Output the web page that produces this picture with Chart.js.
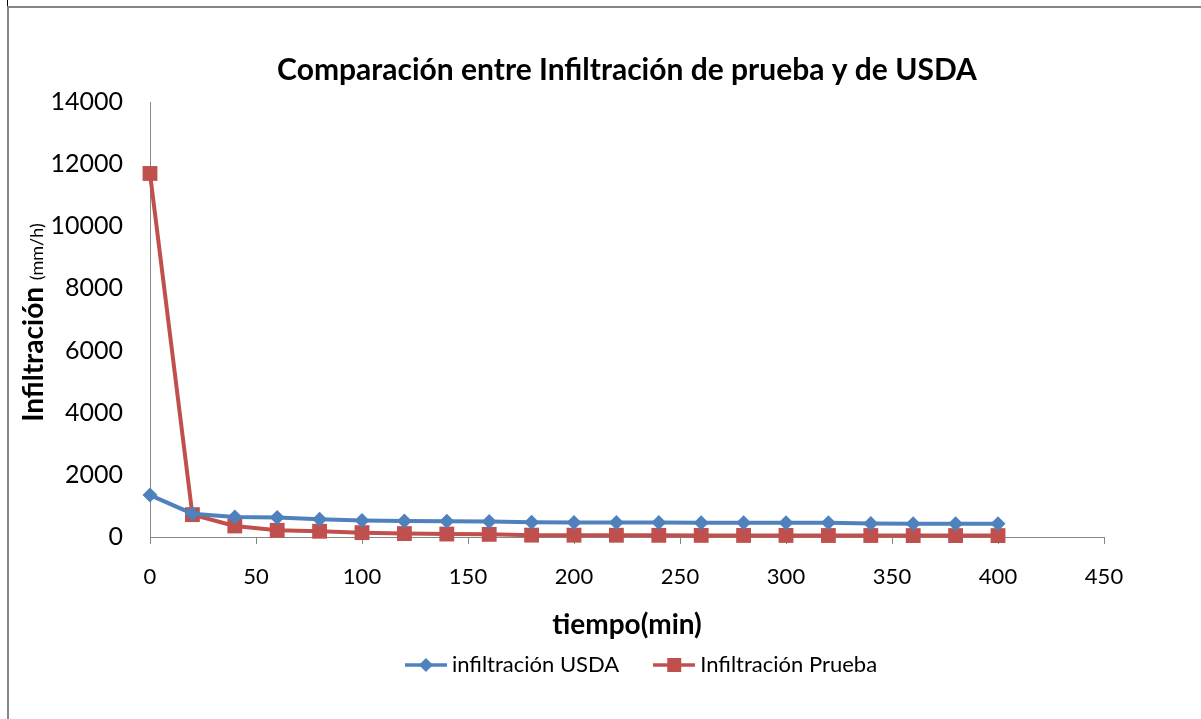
<!DOCTYPE html>
<html>
<head>
<meta charset="utf-8">
<script src="https://cdn.jsdelivr.net/npm/chart.js@4.4.1/dist/chart.umd.min.js"></script>
<style>
  html, body { margin:0; padding:0; background:#fff; overflow:hidden; }
  #wrap { position:relative; width:1201px; height:719px; }
  #frame { position:absolute; left:7px; top:6px; width:1300px; height:800px; border-top:2px solid #868686; border-left:2px solid #868686; pointer-events:none; }
  #nick { position:absolute; left:7px; top:0; width:1px; height:6px; background:#000; }
  canvas { position:absolute; left:0; top:0; }
</style>
</head>
<body>
<div id="wrap">
  <canvas id="chart" width="1201" height="719"></canvas>
  <div id="frame"></div>
  <div id="nick"></div>
</div>
<script>
(function(){
  // data
  const tiempo = [0, 20, 40, 60, 80, 100, 120, 140, 160, 180, 200, 220, 240, 260, 280, 300, 320, 340, 360, 380, 400];
  const usda = [1350, 750, 645, 625, 570, 535, 515, 505, 500, 475, 470, 465, 463, 462, 460, 460, 458, 432, 430, 430, 430];
  const prueba = [11700, 720, 355, 215, 185, 140, 110, 95, 85, 60, 58, 56, 54, 52, 50, 50, 48, 48, 46, 46, 45];
  const seriesNames = ['infiltración USDA', 'Infiltración Prueba'];
  const chartTitle = 'Comparación entre Infiltración de prueba y de USDA';
  const xTitle = 'tiempo(min)';
  const yTitleMain = 'Infiltración';
  const yTitleUnit = '(mm/h)';

  const BLUE = '#4F81BD';
  const RED = '#C0504D';
  const FONT = 'Lato, "Open Sans", sans-serif';

  const pts = vals => tiempo.map((t, i) => ({ x: t, y: vals[i] }));

  // legend swatches: line with marker, like the spreadsheet legend
  function swatch(color, kind){
    const c = document.createElement('canvas');
    c.width = 42; c.height = 18;
    const g = c.getContext('2d');
    g.strokeStyle = color; g.lineWidth = 3.5;
    g.beginPath(); g.moveTo(0, 9); g.lineTo(42, 9); g.stroke();
    g.fillStyle = color;
    if(kind === 'diamond'){
      g.beginPath(); g.moveTo(21, 2); g.lineTo(28, 9); g.lineTo(21, 16); g.lineTo(14, 9); g.closePath(); g.fill();
    } else {
      g.fillRect(14, 2, 14, 14);
    }
    return c;
  }
  const swatches = [swatch(BLUE, 'diamond'), swatch(RED, 'square')];

  const yTitlePlugin = {
    id: 'yTitle',
    beforeDraw(chart){
      // legend sits a bit right of the plot centre in the original
      if(!chart.legend._shifted){ chart.legend.left += 17; chart.legend.right += 17; chart.legend._shifted = true; }
    },
    afterDraw(chart){
      const ctx = chart.ctx;
      const a = chart.chartArea;
      ctx.save();
      ctx.translate(33, (a.top + a.bottom) / 2 + 3);
      ctx.rotate(-Math.PI / 2);
      ctx.fillStyle = '#000';
      ctx.textBaseline = 'alphabetic';
      const f1 = 'bold 28px ' + FONT, f2 = '18px ' + FONT;
      ctx.font = f1; const w1 = ctx.measureText(yTitleMain + ' ').width;
      ctx.font = f2; const w2 = ctx.measureText(yTitleUnit).width;
      const x0 = -(w1 + w2) / 2;
      ctx.font = f1; ctx.fillText(yTitleMain + ' ', x0, 10);
      ctx.font = f2; ctx.fillText(yTitleUnit, x0 + w1, 10);
      ctx.restore();
    }
  };

  new Chart(document.getElementById('chart'), {
    type: 'line',
    data: {
      datasets: [
        { label: seriesNames[0], data: pts(usda), borderColor: BLUE, backgroundColor: BLUE, borderWidth: 4,
          pointStyle: 'rectRot', pointRadius: 7.5, pointBorderWidth: 0, tension: 0, clip: false },
        { label: seriesNames[1], data: pts(prueba), borderColor: RED, backgroundColor: RED, borderWidth: 4,
          pointStyle: 'rect', pointRadius: 10.5, pointBorderWidth: 0, tension: 0, clip: false }
      ]
    },
    options: {
      responsive: false,
      animation: false,
      layout: { padding: { left: 0, right: 97, top: 0, bottom: 33 } },
      plugins: {
        title: { display: true, fullSize: false, text: chartTitle, color: '#000', font: { family: FONT, size: 30, weight: 'bold' }, padding: { top: 52, bottom: 14 } },
        legend: {
          position: 'bottom',
          fullSize: false,
          labels: {
            usePointStyle: true, pointStyleWidth: 30, padding: 40, color: '#000',
            font: { family: FONT, size: 22 },
            generateLabels: chart => chart.data.datasets.map((d, i) => ({
              text: d.label, pointStyle: swatches[i], fontColor: '#000', hidden: false, datasetIndex: i, lineWidth: 0
            }))
          }
        },
        tooltip: { enabled: false }
      },
      scales: {
        x: {
          type: 'linear', min: 0, max: 450,
          afterFit: s => { s.height = 77; },
          border: { display: true, color: '#868686', width: 1 },
          grid: { drawOnChartArea: false, drawTicks: true, tickLength: 7, color: '#868686' },
          ticks: { stepSize: 50, padding: 20, color: '#000', font: { family: FONT, size: 22 }, callback: v => String(v) },
          title: { display: true, text: xTitle, color: '#000', font: { family: FONT, size: 28, weight: 'bold' }, padding: { top: 0, bottom: -28 } }
        },
        y: {
          min: 0, max: 14000,
          afterFit: s => { s.width = 150; },
          border: { display: true, color: '#868686', width: 1 },
          grid: { display: true, drawOnChartArea: false, drawTicks: false },
          ticks: { stepSize: 2000, padding: 27, color: '#000', font: { family: FONT, size: 25 }, callback: v => String(v) }
        }
      }
    },
    plugins: [yTitlePlugin]
  });
})();
</script>
</body>
</html>
